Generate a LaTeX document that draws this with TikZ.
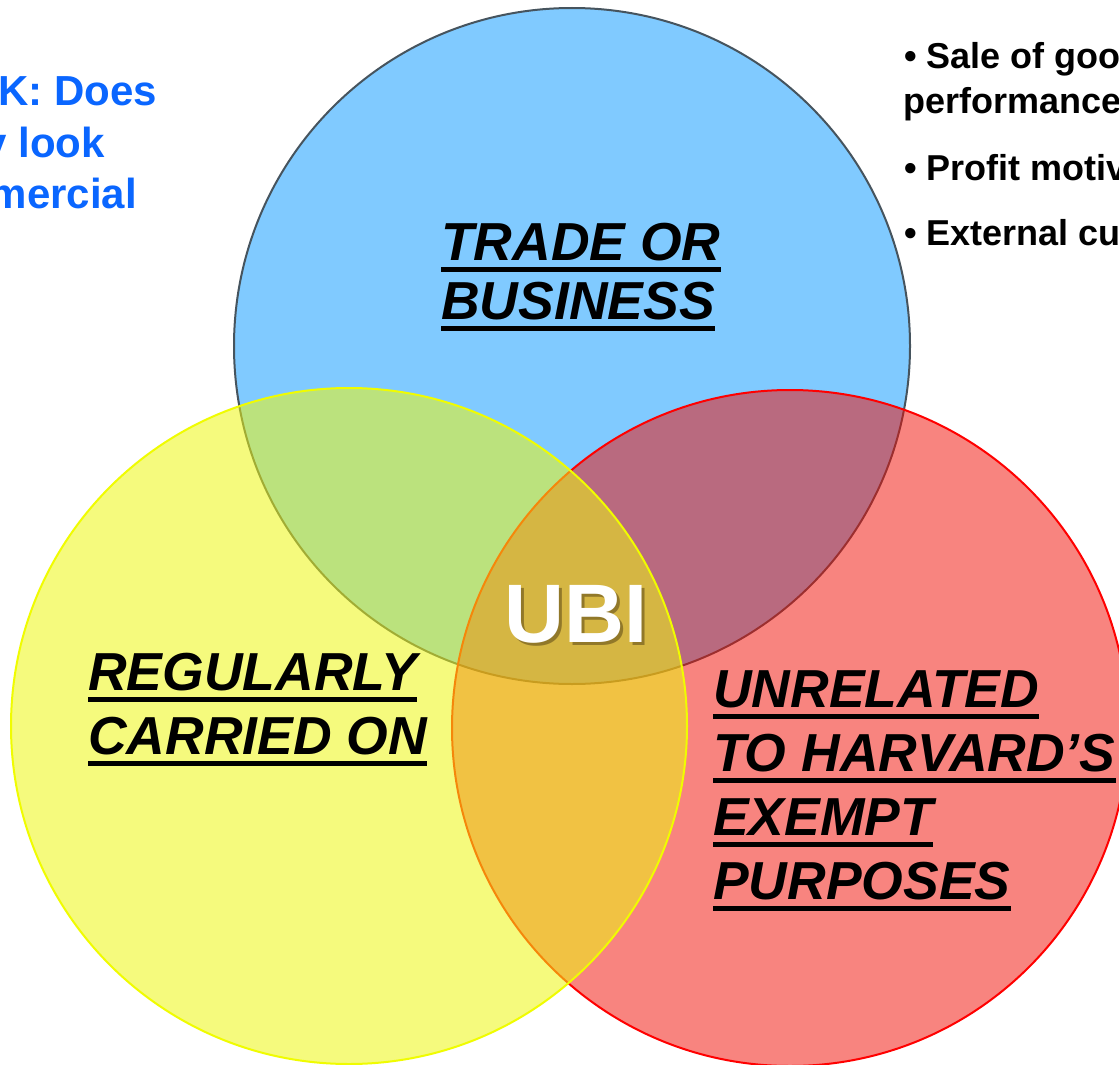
\documentclass[tikz,border=0pt]{standalone}
\usepackage{fontspec}
\setmainfont{Liberation Sans}
\definecolor{tradeblue}{RGB}{128,202,255}
\definecolor{tradeedge}{RGB}{70,84,94}
\definecolor{regyellow}{RGB}{237,246,19}
\definecolor{regedge}{RGB}{240,252,0}
\definecolor{unrred}{RGB}{243,11,1}
\definecolor{unredge}{RGB}{255,0,0}
\definecolor{askblue}{RGB}{10,102,255}
\definecolor{ubishadow}{RGB}{110,88,28}
\begin{document}
\begin{tikzpicture}[x=1pt,y=-1pt,
  setcircle/.style={circle, inner sep=0pt, outer sep=0pt, minimum size=676pt, line width=2pt},
  caption/.style={inner sep=0pt, anchor=base west,
    font=\fontsize{53.5}{62}\selectfont\bfseries\itshape},
  bar/.style={line width=5pt},
  note/.style={inner sep=0pt, anchor=base west, font=\fontsize{36}{43}\selectfont\bfseries},
  ask/.style={inner sep=0pt, anchor=base east, text=askblue,
    font=\fontsize{42}{50}\selectfont\bfseries},
  ubi/.style={inner sep=0pt, anchor=base, font=\fontsize{83}{90}\selectfont\bfseries}]
\useasboundingbox (0,0) rectangle (1119,1065);
\clip (0,0) rectangle (1119,1065);
\fill[white] (0,0) rectangle (1119,1065);

% the three sets: trade or business, then unrelated, then regularly carried on
\node[setcircle, fill=tradeblue, draw=tradeedge] (trade) at (572,346) {};
\node[setcircle, fill=unrred, fill opacity=0.5, draw=unredge] (unrelated) at (790,728) {};
\node[setcircle, fill=regyellow, fill opacity=0.55, draw=regedge] (regular) at (349,726) {};

% set captions
\node[caption] (t1) at (441,260) {TRADE OR};
\node[caption] (t2) at (441,319) {BUSINESS};
\node[caption] (r1) at (88,690) {REGULARLY};
\node[caption] (r2) at (88,754) {CARRIED ON};
\node[caption] (u1) at (713,707) {UNRELATED};
\node[caption] (u2) at (713,771) {TO HARVARD’S};
\node[caption] (u3) at (713,835) {EXEMPT};
\node[caption] (u4) at (713,899) {PURPOSES};
\foreach \n in {t1,t2,r1,r2,u1,u2,u3,u4}
  \draw[bar] ([yshift=-9pt]\n.base west) -- ([yshift=-9pt]\n.base east);

% intersection label
\node[ubi, text=ubishadow, opacity=0.65] (ubishade) at (579,645) {UBI};
\node[ubi, text=white] (ubilabel) at (576,642) {UBI};

% question at the left edge
\node[ask] (q1) at (157,105) {K: Does};
\node[ask] (q2) at (105,157) {y look};
\node[ask] (q3) at (137,208) {mercial};

% factors at the right edge
\node[note] (f1) at (904,68) {• Sale of goo};
\node[note] (f2) at (903,113) {performance};
\node[note] (f3) at (904,180) {• Profit motiv};
\node[note] (f4) at (904,245) {• External cu};
\end{tikzpicture}
\end{document}
